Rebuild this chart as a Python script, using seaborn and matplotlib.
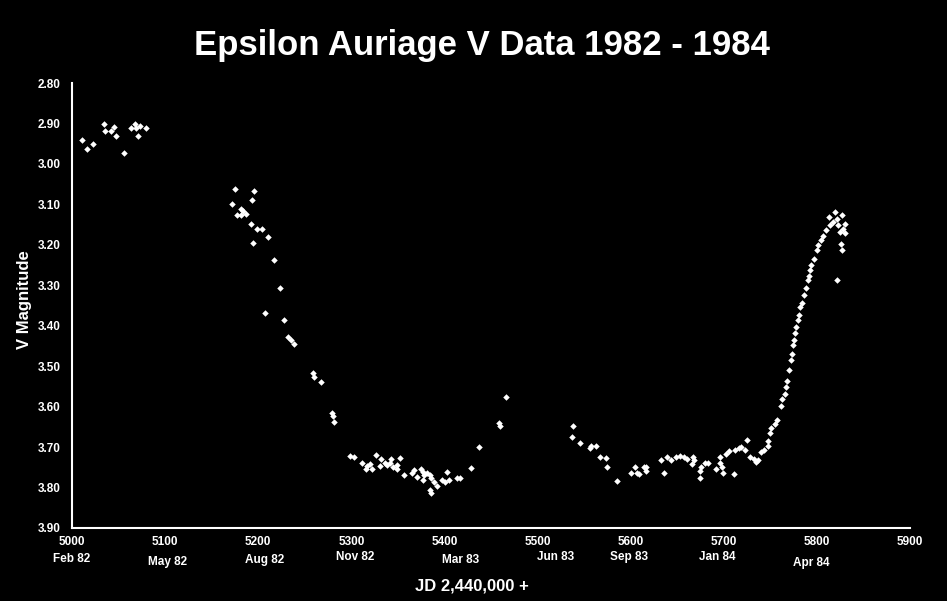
#!/usr/bin/env python3
"""
Epsilon Aurigae V-band light curve, 1982 - 1984 (eclipse).
"""

import matplotlib
matplotlib.use("Agg")
import matplotlib.pyplot as plt
from matplotlib.ticker import MultipleLocator, FormatStrFormatter
from matplotlib.transforms import blended_transform_factory
import pandas as pd
import seaborn as sns

# Julian date (JD - 2,440,000) and V magnitude
jd = [
    # early 1982
    5011, 5016, 5023, 5034, 5035, 5042, 5045, 5047, 5056, 5063, 5068, 5069, 5071, 5079, 5073,
    # ingress, autumn 1982
    5175, 5196, 5193, 5172, 5182, 5184, 5187, 5177, 5182, 5192, 5199, 5204, 5210, 5194,
    5217, 5223, 5207, 5228, 5232, 5235, 5238,
    5259, 5260, 5267, 5279, 5280, 5281,
    # totality, winter 1982-83
    5299, 5303, 5311, 5317, 5320, 5316, 5322, 5326, 5332, 5331, 5336, 5338, 5342, 5343,
    5345, 5349, 5352, 5349, 5357, 5365, 5367, 5370, 5375, 5377, 5378, 5381, 5384, 5386,
    5389, 5377, 5384, 5386, 5392, 5397, 5401, 5403, 5405, 5413, 5417, 5429, 5437,
    5459, 5460, 5466,
    # totality, 1983-84
    5538, 5537, 5546, 5556, 5557, 5563, 5567, 5574, 5575, 5585, 5600, 5605, 5607, 5609,
    5614, 5616, 5616, 5633, 5639, 5643, 5636, 5649, 5653, 5657, 5660, 5667, 5668, 5666,
    5674, 5676, 5674, 5680, 5683, 5692, 5696, 5698, 5699, 5696, 5702, 5706, 5711, 5712,
    5716, 5719, 5723, 5725, 5728, 5732, 5735, 5737, 5740, 5743, 5747, 5748, 5750, 5751,
    5755, 5757, 5761, 5763, 5766, 5767, 5768,
    # egress, spring 1984
    5770, 5772, 5773, 5774, 5775, 5777, 5778, 5780, 5781, 5782, 5784, 5786, 5788, 5790,
    5822, 5791, 5793, 5794, 5797, 5800, 5827, 5801, 5826, 5804, 5830, 5807, 5825, 5810,
    5828, 5814, 5823, 5830, 5817, 5822, 5813, 5827, 5819,
]
vmag = [
    2.940, 2.962, 2.950, 2.901, 2.919, 2.919, 2.909, 2.931, 2.972, 2.911, 2.901, 2.911, 2.931, 2.911, 2.907,
    3.061, 3.068, 3.090, 3.100, 3.111, 3.117, 3.123, 3.127, 3.127, 3.149, 3.160, 3.160, 3.181, 3.195,
    3.237, 3.307, 3.368, 3.386, 3.428, 3.436, 3.446,
    3.517, 3.526, 3.540, 3.615, 3.623, 3.638,
    3.722, 3.724, 3.740, 3.747, 3.742, 3.753, 3.753, 3.720, 3.730, 3.747, 3.740, 3.744, 3.739, 3.730,
    3.749, 3.744, 3.728, 3.753, 3.769, 3.763, 3.757, 3.773, 3.755, 3.761, 3.769, 3.765, 3.769, 3.777,
    3.786, 3.781, 3.806, 3.814, 3.796, 3.781, 3.786, 3.761, 3.781, 3.777, 3.777, 3.751, 3.701,
    3.640, 3.648, 3.577,
    3.647, 3.676, 3.691, 3.703, 3.697, 3.698, 3.724, 3.726, 3.750, 3.783, 3.765, 3.750, 3.764, 3.767,
    3.750, 3.749, 3.758, 3.732, 3.725, 3.732, 3.765, 3.725, 3.722, 3.725, 3.730, 3.725, 3.732, 3.742,
    3.758, 3.750, 3.777, 3.740, 3.739, 3.755, 3.739, 3.750, 3.763, 3.725, 3.717, 3.709, 3.767, 3.706,
    3.703, 3.699, 3.706, 3.683, 3.725, 3.730, 3.736, 3.732, 3.712, 3.706, 3.698, 3.684, 3.665, 3.654,
    3.643, 3.633, 3.599, 3.580, 3.569, 3.551, 3.537,
    3.510, 3.485, 3.469, 3.448, 3.436, 3.419, 3.403, 3.386, 3.374, 3.354, 3.345, 3.325, 3.306, 3.288,
    3.286, 3.278, 3.263, 3.251, 3.234, 3.214, 3.214, 3.201, 3.197, 3.189, 3.172, 3.177, 3.168, 3.164,
    3.160, 3.152, 3.152, 3.148, 3.144, 3.135, 3.131, 3.127, 3.119,
]

# calendar labels under the JD axis
month_labels = ["Feb 82", "May 82", "Aug 82", "Nov 82", "Mar 83",
                "Jun 83", "Sep 83", "Jan 84", "Apr 84"]
month_jd = [5000, 5103, 5207, 5304, 5417, 5519, 5598, 5693, 5794]
# vertical pixel row of each label (they are not all on one line)
month_row = [559, 562, 560, 557, 560, 557, 557, 557, 563]

W, H = 947, 601

sns.set_style("dark", {
    "axes.facecolor": "black",
    "figure.facecolor": "black",
    "axes.edgecolor": "white",
    "text.color": "white",
    "axes.labelcolor": "white",
    "xtick.color": "white",
    "ytick.color": "white",
})
plt.rcParams['font.family'] = ['Liberation Sans', 'DejaVu Sans']
narrow = ['Liberation Sans Narrow', 'Liberation Sans', 'DejaVu Sans']

df = pd.DataFrame({"JD": jd, "V": vmag})

fig = plt.figure(figsize=(W / 100, H / 100), dpi=100, facecolor="black")
ax = fig.add_axes([72 / W, 1 - 528 / H, (910 - 72) / W, (528 - 83) / H])

sns.scatterplot(data=df, x="JD", y="V", ax=ax, color="white",
                marker="D", s=11, linewidth=0)

ax.set_xlim(5000, 5900)
ax.set_ylim(3.90, 2.80)

ax.xaxis.set_major_locator(MultipleLocator(100))
ax.xaxis.set_minor_locator(MultipleLocator(10))
ax.xaxis.set_major_formatter(FormatStrFormatter("%d"))
ax.yaxis.set_major_locator(MultipleLocator(0.1))
ax.yaxis.set_minor_locator(MultipleLocator(0.01))
ax.yaxis.set_major_formatter(FormatStrFormatter("%.2f"))

ax.tick_params(axis="x", which="major", direction="in", length=6, width=1.2, pad=6)
ax.tick_params(axis="x", which="minor", direction="in", length=3, width=1)
ax.tick_params(axis="y", which="major", direction="out", length=4, width=1.2, pad=4)
ax.tick_params(axis="y", which="minor", direction="out", length=2, width=1)
for lab in ax.get_xticklabels() + ax.get_yticklabels():
    lab.set_fontfamily(narrow)
    lab.set_fontweight("bold")
    lab.set_fontsize(8.5)

for side in ["top", "right"]:
    ax.spines[side].set_visible(False)
for side in ["left", "bottom"]:
    ax.spines[side].set_color("white")
    ax.spines[side].set_linewidth(1.5)
ax.grid(False)

ax.set_xlabel("")
ax.set_ylabel("")

# calendar month labels
trans = blended_transform_factory(ax.transData, fig.transFigure)
for lab, x, row in zip(month_labels, month_jd, month_row):
    ax.text(x, 1 - row / H, lab, transform=trans, ha="center", va="center",
            color="white", fontsize=8.5, fontweight="bold", family=narrow,
            clip_on=False)

fig.text(482 / W, 1 - 45 / H, "Epsilon Auriage V Data 1982 - 1984",
         ha="center", va="center", color="white", fontsize=25, fontweight="bold")
fig.text(472 / W, 1 - 586 / H, "JD 2,440,000 +", ha="center", va="center",
         color="white", fontsize=12, fontweight="bold")
fig.text(25 / W, 1 - 300 / H, "V Magnitude", ha="center", va="center",
         rotation=90, color="white", fontsize=12, fontweight="bold")

fig.savefig("out.png", dpi=100, facecolor="black")
